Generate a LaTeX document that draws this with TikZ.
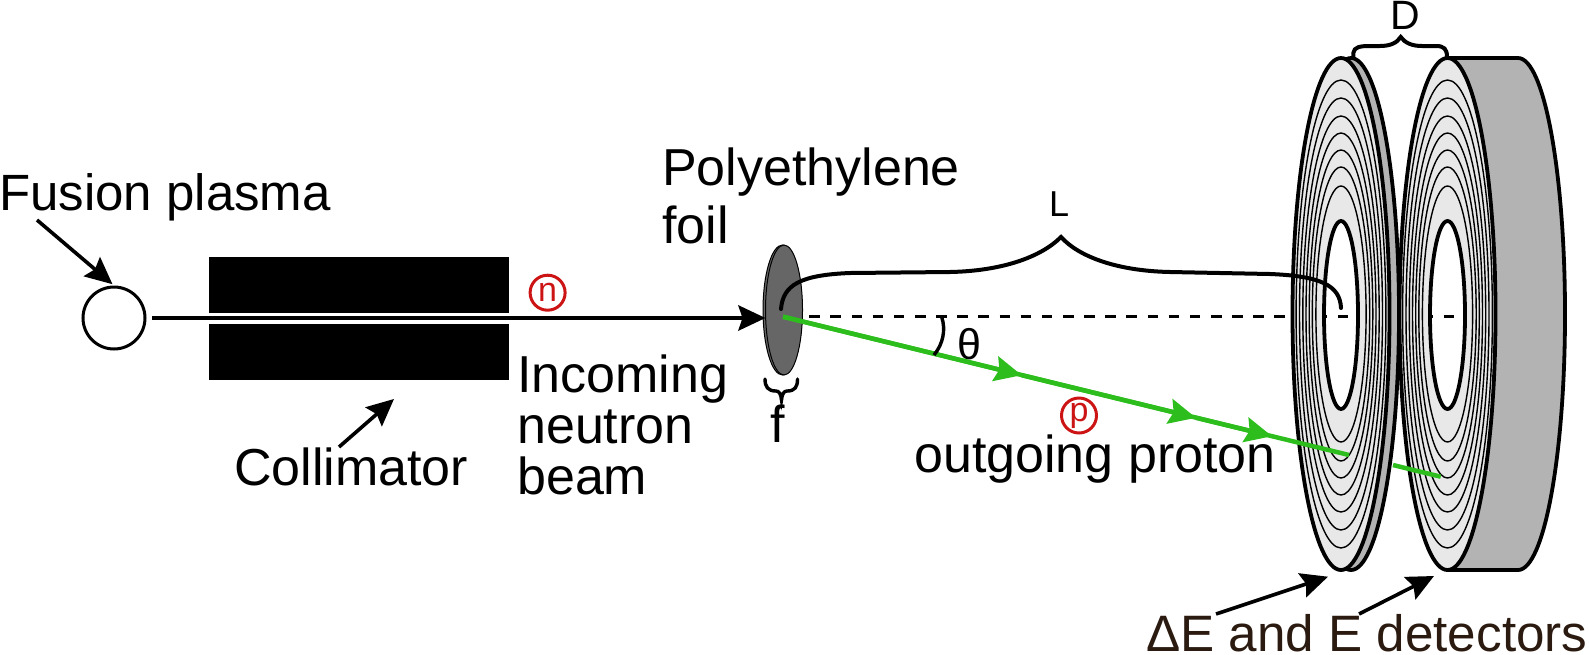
\documentclass[tikz,border=0pt]{standalone}
\usepackage{fontspec}
\setmainfont{Liberation Sans}
\usepackage{xcolor}
\usetikzlibrary{arrows.meta, shapes.geometric, positioning}
\definecolor{discface}{HTML}{E8E8E8}
\definecolor{discside}{HTML}{B3B3B3}
\definecolor{foilgrey}{HTML}{666666}
\definecolor{protongreen}{HTML}{2DBE1E}
\definecolor{particlered}{HTML}{CC1414}
\definecolor{detectorbrown}{HTML}{2B1A10}
\tikzset{> = { Stealth[length = 27pt, width = 25pt, inset = 4pt] }}
\begin{document}
\begin{tikzpicture}[x = 1pt, y = -1pt, textlabel/.style = { inner sep = 0, anchor = base west, font = \fontsize{52}{52}\selectfont }, smalllabel/.style = { inner sep = 0, anchor = base, font = \fontsize{41}{41}\selectfont }, collimatorbox/.style = { fill = black, minimum width = 300pt, minimum height = 56.3pt, inner sep = 0 }, particle/.style = { draw = particlered, text = particlered, circle, line width = 3pt, minimum size = 35pt, inner sep = 0, font = \fontsize{34}{34}\selectfont }, pointer/.style = { ->, line width = 3.6pt }, brace/.style = { line width = 4pt, line cap = round }, proton/.style = { protongreen, line width = 4.5pt }, outline/.style = { draw = black, line width = 3.8pt }, ring/.style = { draw = black, line width = 1.4pt }]
				\useasboundingbox (0,0) rectangle (1589,654);

				\node [draw, circle, line width = 3pt, minimum size = 62pt, inner sep = 0] (plasma) at (114,318) {};
				\node [collimatorbox] (colTop) at (359,284.9) {};
				\node [collimatorbox] (colBottom) at (359,351.9) {};
				\node [ellipse, fill = foilgrey, draw, line width = 1pt, minimum width = 39pt, minimum height = 130pt, inner sep = 0, outer sep = 0] (foilBack) at (782.5,310) {};
				\node [ellipse, fill = foilgrey, draw, line width = 1pt, minimum width = 37pt, minimum height = 130pt, inner sep = 0, outer sep = 0] (foil) at (784,310) {};
				\node [particle] (n) at (547.6,292.7) {n};
				\node [particle] (p) at (1079,415.5) {p};

				\node [textlabel, font = \fontsize{51}{51}\selectfont] (fusion) at (-1,210) {Fusion plasma};
				\node [textlabel] (collimator) at (234,485) {Collimator};
				\node [textlabel] (incoming) at (517,392) {Incoming};
				\node [textlabel] (neutron) at (517,443) {neutron};
				\node [textlabel] (beam) at (517,494) {beam};
				\node [textlabel] (polyethylene) at (662,185) {Polyethylene};
				\node [textlabel] (foilText) at (662,243) {foil};
				\node [textlabel] (f) at (770,442.7) {f};
				\node [textlabel] (outgoing) at (914,472) {outgoing proton};
				\node [textlabel, text = detectorbrown, font = \fontsize{51.2}{52}\selectfont] (detectors) at (1146,651.5) {ΔE and E detectors};
				\node [smalllabel, font = \fontsize{36}{36}\selectfont] (L) at (1059,216.7) {L};
				\node [smalllabel] (D) at (1405,29.3) {D};
				\node [smalllabel, font = \fontsize{43}{43}\selectfont] (theta) at (969,359) {θ};

				\coordinate (fusionTail) at (37,220);
				\coordinate (collimatorTail) at (339,447);
				\coordinate (collimatorTip) at (394,399);
				\coordinate (beamStart) at (152,318);
				\coordinate (dashStart) at (809.3,316.7);
				\coordinate (dashEnd) at (1454,316.7);
				\coordinate (protonStart) at (783,316.7);
				\coordinate (protonA) at (1021.7,375.2);
				\coordinate (protonB) at (1196,417.8);
				\coordinate (protonC) at (1272,436.2);
				\coordinate (protonEnd) at (1349,455);
				\coordinate (protonResume) at (1393,465);
				\coordinate (protonStop) at (1440.7,476.7);
				\coordinate (deltaTail) at (1216,614);
				\coordinate (deltaTip) at (1328,576.7);
				\coordinate (energyTail) at (1359,614);
				\coordinate (energyTip) at (1434,576);

				\draw [line width = 3.3pt, dash pattern = on 10.6pt off 10.54pt] (dashStart) -- (dashEnd);

				\fill [discside, even odd rule] (1351,314) ellipse [x radius = 48pt, y radius = 256pt] (1341,315) ellipse [x radius = 17pt, y radius = 94pt];
				\draw [outline] (1351,314) ellipse [x radius = 48pt, y radius = 256pt];
				\fill [discface, even odd rule] (1341,314) ellipse [x radius = 48.5pt, y radius = 256pt] (1341,315) ellipse [x radius = 17pt, y radius = 94pt];
				\draw [ring] (1341,314) ellipse [x radius = 44.9pt, y radius = 234pt];
				\draw [ring] (1341,314) ellipse [x radius = 41.5pt, y radius = 216pt];
				\draw [ring] (1341,314) ellipse [x radius = 38.2pt, y radius = 198pt];
				\draw [ring] (1341,314) ellipse [x radius = 35pt, y radius = 181pt];
				\draw [ring] (1341,314) ellipse [x radius = 31.8pt, y radius = 164pt];
				\draw [ring] (1341,314) ellipse [x radius = 28.7pt, y radius = 147pt];
				\draw [ring] (1341,314) ellipse [x radius = 25.1pt, y radius = 128pt];
				\draw [outline] (1341,314) ellipse [x radius = 48.5pt, y radius = 256pt];
				\draw [outline] (1341,315) ellipse [x radius = 17pt, y radius = 94pt];

				\fill [discside, even odd rule] (1447.5,58) -- (1518,58) arc [start angle = 90, end angle = -90, x radius = 47pt, y radius = 256pt] -- (1447.5,570) arc [start angle = 270, end angle = 90, x radius = 48pt, y radius = 256pt] -- cycle (1447.5,315) ellipse [x radius = 17.5pt, y radius = 94pt];
				\draw [outline] (1447.5,58) -- (1518,58) arc [start angle = 90, end angle = -90, x radius = 47pt, y radius = 256pt] -- (1447.5,570);
				\fill [discface, even odd rule] (1447.5,314) ellipse [x radius = 48pt, y radius = 256pt] (1447.5,315) ellipse [x radius = 17.5pt, y radius = 94pt];
				\draw [ring] (1447.5,314) ellipse [x radius = 44.9pt, y radius = 234pt];
				\draw [ring] (1447.5,314) ellipse [x radius = 41.5pt, y radius = 216pt];
				\draw [ring] (1447.5,314) ellipse [x radius = 38.2pt, y radius = 198pt];
				\draw [ring] (1447.5,314) ellipse [x radius = 35pt, y radius = 181pt];
				\draw [ring] (1447.5,314) ellipse [x radius = 31.8pt, y radius = 164pt];
				\draw [ring] (1447.5,314) ellipse [x radius = 28.7pt, y radius = 147pt];
				\draw [ring] (1447.5,314) ellipse [x radius = 25.1pt, y radius = 128pt];
				\draw [outline] (1447.5,314) ellipse [x radius = 48pt, y radius = 256pt];
				\draw [outline] (1447.5,315) ellipse [x radius = 17.5pt, y radius = 94pt];

				\draw [pointer, shorten > = 2pt] (fusionTail) -- (plasma.north);
				\draw [pointer] (collimatorTail) -- (collimatorTip);
				\draw [pointer, line width = 4.5pt] (beamStart) -- (foil.west |- beamStart);
				\draw [pointer] (deltaTail) -- (deltaTip);
				\draw [pointer] (energyTail) -- (energyTip);

				\draw [proton] (protonStart) -- (protonEnd);
				\draw [proton, ->] (protonStart) -- (protonA);
				\draw [proton, ->] (protonA) -- (protonB);
				\draw [proton, ->] (protonB) -- (protonC);
				\draw [proton] (protonResume) -- (protonStop);

				\draw [line width = 3.4pt] (941.7,317) .. controls (946,330) and (943,344) .. (934,355);

				\draw [brace] (781,309) .. controls (783,285) and (800,275) .. (850,273) -- (950,272) .. controls (1000,271) and (1040,258) .. (1061,237) .. controls (1080,258) and (1120,271) .. (1170,272) -- (1270,274) .. controls (1320,276) and (1340,285) .. (1341,308);
				\draw [brace] (1353.3,57) -- (1353.3,53) .. controls (1354,47) and (1360,46) .. (1370,46) -- (1380,46) .. controls (1390,46) and (1397,43) .. (1400.7,37) .. controls (1405,43) and (1412,46) .. (1422,46) -- (1436,46) .. controls (1444,46) and (1447,49) .. (1447,57);
				\draw [brace, line width = 3.4pt] (765,379) .. controls (765,387) and (768,391) .. (776,391) .. controls (779,391) and (781,394) .. (781.5,400) .. controls (782,394) and (784,391) .. (787,391) .. controls (795,391) and (797.5,387) .. (797.5,379);
			\end{tikzpicture}
\end{document}
